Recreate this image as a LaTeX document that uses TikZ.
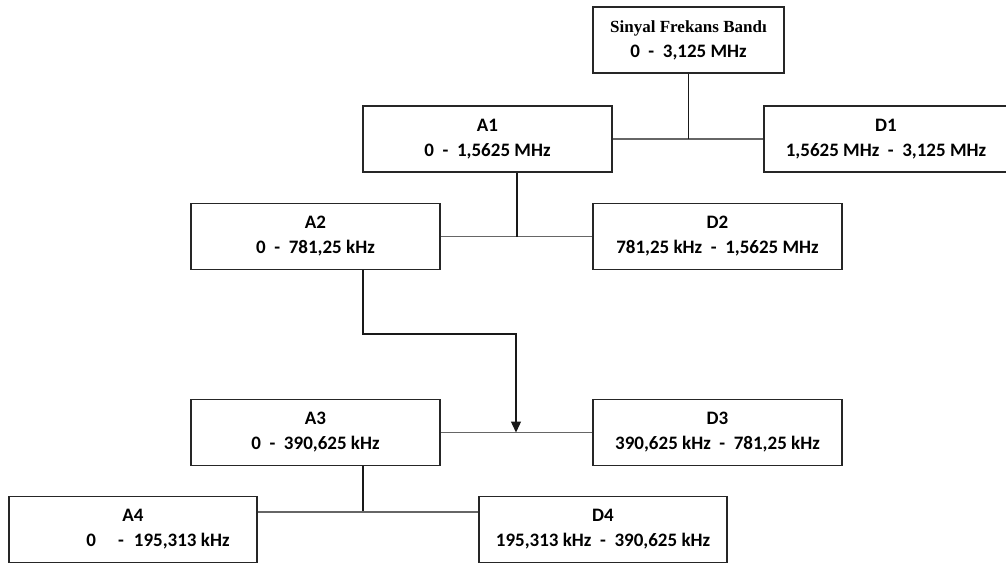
\documentclass[tikz,border=0pt]{standalone}
\usepackage{fontspec}
\setmainfont{Carlito}
\newfontfamily\serifb{Liberation Serif}
\usetikzlibrary{arrows.meta}
\begin{document}
\begin{tikzpicture}[x=1pt,y=-1pt,
  box/.style={draw=black!85, line width=1.8pt, minimum width=#1, minimum height=66pt,
    inner sep=0pt, align=center, font=\fontsize{19}{25}\selectfont\bfseries},
  stem/.style={draw=black!90, line width=1.6pt},
  link/.style={draw=black!60, line width=1.9pt}]
\useasboundingbox (0,0) rectangle (1006,581);
% boxes
\node[box=191pt] (T) at (688.5,40) {{\serifb\fontsize{17}{25}\selectfont Sinyal Frekans Bandı}\\0\ \ -\ \ 3,125 MHz};
\node[box=249pt] (A1) at (487.5,139) {A1\\0\ \ -\ \ 1,5625 MHz};
\node[box=244pt] (D1) at (886,139) {D1\\1,5625 MHz\ \ -\ \ 3,125 MHz};
\node[box=249pt] (A2) at (315.5,236.5) {A2\\0\ \ -\ \ 781,25 kHz};
\node[box=249pt] (D2) at (717.5,236.5) {D2\\781,25 kHz\ \ -\ \ 1,5625 MHz};
\node[box=249pt] (A3) at (315.5,432.5) {A3\\0\ \ -\ \ 390,625 kHz};
\node[box=249pt] (D3) at (717.5,432.5) {D3\\390,625 kHz\ \ -\ \ 781,25 kHz};
\node[box=248pt] (A4) at (133,529.5) {A4\\\hspace*{50pt}0\hspace{22pt}-\hspace{10pt}195,313 kHz};
\node[box=248pt] (D4) at (603,529.5) {D4\\195,313 kHz\ \ -\ \ 390,625 kHz};
% junctions
\coordinate (j1) at (T.south |- A1.east);
\coordinate (j2) at (517,236.5);
\coordinate (b1) at (363,334);
\coordinate (b2) at (516,334);
\coordinate (j3) at (516,432.5);
\coordinate (j4) at (363,512);
% connectors
\draw[link] (A1.east) -- (D1.west);
\draw[stem] (T.south) -- (j1);
\draw[link] (A2.east) -- (D2.west);
\draw[stem] (A1.south -| j2) -- (j2);
\draw[link] (A3.east) -- (D3.west);
\draw[stem, line width=1.3pt, -{Triangle[width=10pt,length=11pt]}] (A2.south -| b1) -- (b1) -- (b2) -- (j3);
\draw[stem] (A3.south -| j4) -- (j4);
\draw[link] (A4.east |- j4) -- (D4.west |- j4);
\end{tikzpicture}
\end{document}
